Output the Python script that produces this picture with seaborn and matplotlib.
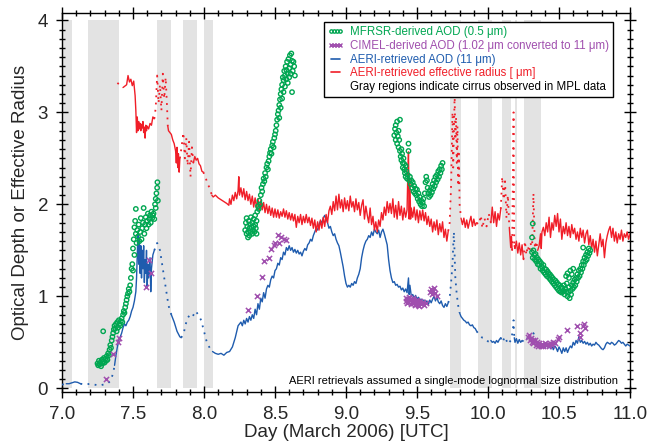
import numpy as np
import pandas as pd
import matplotlib
matplotlib.use("Agg")
import matplotlib.pyplot as plt
from matplotlib.lines import Line2D
from matplotlib.ticker import MultipleLocator, FormatStrFormatter
import seaborn as sns

# ---------------- data ----------------
cirrus_start = [7.00, 7.18, 7.67, 7.85, 8.00, 9.73, 9.93, 10.10, 10.19, 10.25]
cirrus_end = [7.07, 7.40, 7.77, 7.95, 8.06, 9.81, 10.03, 10.16, 10.205, 10.37]

# AERI-retrieved effective radius
radius_day = [
    7.39, 7.43, 7.455, 7.465, 7.475, 7.485, 7.495, 7.505, 7.515, 7.52,
    7.525, 7.53, 7.535, 7.54, 7.545, 7.55, 7.555, 7.56, 7.565, 7.57,
    7.575, 7.58, 7.585, 7.59, 7.595, 7.60, 7.61, 7.62, 7.63, 7.64,
    7.65, 7.66, 7.67, 7.68, 7.69, 7.70, 7.71, 7.72, 7.73, 7.74,
    7.745, 7.75, 7.76, 7.77, 7.78, 7.79, 7.80, 7.805, 7.81, 7.815,
    7.82, 7.825, 7.83, 7.84, 7.855, 7.865, 7.875, 7.885, 7.895, 7.905,
    7.915, 7.925, 7.935, 7.945, 7.955, 7.965, 7.975, 7.985, 7.995, 8.01,
    8.025, 8.04, 8.055, 8.065, 8.08, 8.10, 8.12, 8.14, 8.16, 8.175,
    8.18, 8.19, 8.20, 8.21, 8.22, 8.23, 8.24, 8.245, 8.25, 8.26,
    8.27, 8.28, 8.29, 8.30, 8.31, 8.32, 8.33, 8.34, 8.35, 8.36,
    8.37, 8.38, 8.39, 8.40, 8.41, 8.42, 8.43, 8.44, 8.45, 8.46,
    8.47, 8.48, 8.49, 8.50, 8.51, 8.52, 8.53, 8.54, 8.55, 8.56,
    8.57, 8.58, 8.59, 8.60, 8.61, 8.62, 8.63, 8.64, 8.65, 8.66,
    8.67, 8.68, 8.69, 8.70, 8.71, 8.72, 8.73, 8.74, 8.75, 8.76,
    8.77, 8.78, 8.79, 8.80, 8.81, 8.82, 8.83, 8.84, 8.85, 8.86,
    8.87, 8.88, 8.89, 8.90, 8.91, 8.92, 8.93, 8.94, 8.95, 8.96,
    8.97, 8.98, 8.99, 9.00, 9.01, 9.02, 9.03, 9.04, 9.05, 9.06,
    9.07, 9.08, 9.09, 9.10, 9.11, 9.12, 9.13, 9.14, 9.15, 9.16,
    9.17, 9.18, 9.19, 9.20, 9.21, 9.22, 9.23, 9.24, 9.25, 9.26,
    9.27, 9.28, 9.29, 9.30, 9.31, 9.32, 9.33, 9.34, 9.35, 9.36,
    9.37, 9.38, 9.39, 9.40, 9.41, 9.42, 9.43, 9.435, 9.44, 9.445,
    9.45, 9.455, 9.46, 9.47, 9.48, 9.49, 9.50, 9.51, 9.52, 9.53,
    9.54, 9.55, 9.56, 9.57, 9.58, 9.59, 9.60, 9.61, 9.62, 9.63,
    9.64, 9.65, 9.66, 9.67, 9.68, 9.69, 9.70, 9.71, 9.72, 9.73,
    9.74, 9.745, 9.75, 9.755, 9.76, 9.765, 9.77, 9.775, 9.78, 9.785,
    9.79, 9.795, 9.80, 9.81, 9.82, 9.83, 9.84, 9.85, 9.86, 9.87,
    9.88, 9.89, 9.90, 9.91, 9.92, 9.935, 9.95, 9.96, 9.975, 9.99,
    10.005, 10.02, 10.03, 10.04, 10.05, 10.06, 10.07, 10.08, 10.09, 10.10,
    10.11, 10.12, 10.13, 10.14, 10.15, 10.16, 10.165, 10.17, 10.18, 10.185,
    10.19, 10.20, 10.21, 10.22, 10.23, 10.24, 10.25, 10.26, 10.27, 10.28,
    10.29, 10.30, 10.31, 10.32, 10.33, 10.34, 10.35, 10.36, 10.37, 10.375,
    10.38, 10.39, 10.40, 10.41, 10.42, 10.43, 10.44, 10.45, 10.46, 10.47,
    10.48, 10.49, 10.50, 10.51, 10.52, 10.53, 10.54, 10.55, 10.56, 10.57,
    10.58, 10.59, 10.60, 10.61, 10.62, 10.63, 10.64, 10.65, 10.66, 10.67,
    10.68, 10.69, 10.70, 10.71, 10.72, 10.73, 10.74, 10.75, 10.76, 10.77,
    10.78, 10.79, 10.80, 10.81, 10.82, 10.83, 10.84, 10.85, 10.86, 10.87,
    10.88, 10.89, 10.90, 10.91, 10.92, 10.93, 10.94, 10.95, 10.96, 10.97,
    10.98, 10.99, 11.00,
]
radius_val = [
    3.32, 3.27, 3.30, 3.40, 3.33, 3.36, 3.29, 3.34, 3.18, 3.02,
    2.78, 2.95, 2.80, 2.90, 2.82, 2.88, 2.80, 2.87, 2.83, 2.90,
    2.78, 2.84, 2.72, 2.86, 2.80, 2.85, 2.82, 2.88, 2.86, 2.95,
    2.93, 3.05, 3.40, 3.10, 3.30, 3.02, 3.42, 3.15, 3.38, 3.05,
    2.85, 2.80, 2.78, 2.76, 2.70, 2.66, 2.58, 2.45, 2.62, 2.40,
    2.55, 2.35, 2.50, 2.60, 2.78, 2.50, 2.72, 2.42, 2.68, 2.30,
    2.62, 2.45, 2.52, 2.48, 2.50, 2.44, 2.42, 2.36, 2.35, 2.30,
    2.22, 2.18, 2.10, 2.08, 2.10, 2.07, 2.05, 2.03, 2.01, 1.99,
    2.06, 2.00, 2.10, 2.04, 2.13, 2.06, 2.15, 2.30, 2.10, 2.18,
    2.08, 2.17, 2.05, 2.14, 2.04, 2.11, 2.00, 2.09, 1.97, 2.07,
    1.96, 2.06, 1.94, 2.04, 1.94, 2.02, 1.91, 2.00, 1.90, 1.98,
    1.88, 1.96, 1.86, 1.95, 1.86, 1.94, 1.85, 1.92, 1.87, 1.95,
    1.86, 1.93, 1.84, 1.91, 1.83, 1.90, 1.82, 1.89, 1.75, 1.87,
    1.80, 1.89, 1.78, 1.87, 1.80, 1.89, 1.80, 1.86, 1.77, 1.85,
    1.74, 1.83, 1.70, 1.81, 1.72, 1.83, 1.74, 1.86, 1.76, 1.89,
    1.80, 1.93, 1.98, 1.89, 2.03, 1.93, 2.09, 1.94, 2.11, 1.96,
    2.05, 1.92, 2.07, 1.95, 2.04, 1.93, 2.09, 1.97, 2.03, 1.92,
    2.06, 1.94, 2.02, 1.88, 1.99, 2.05, 1.84, 1.98, 1.88, 1.80,
    1.96, 1.78, 1.87, 1.72, 1.81, 1.70, 1.83, 1.76, 1.91, 1.83,
    1.97, 1.88, 2.03, 1.91, 2.01, 1.90, 2.06, 1.86, 1.99, 1.84,
    2.03, 1.88, 1.98, 1.83, 1.96, 1.86, 1.94, 2.30, 2.57, 1.84,
    2.28, 1.84, 1.96, 1.86, 1.97, 1.83, 1.94, 1.80, 1.93, 1.83,
    1.94, 1.82, 1.91, 1.78, 1.87, 1.76, 1.84, 1.70, 1.81, 1.72,
    1.83, 1.67, 1.79, 1.70, 1.81, 1.64, 1.73, 1.60, 1.71, 1.80,
    2.20, 2.60, 3.00, 2.40, 2.80, 3.20, 2.70, 2.95, 2.45, 2.85,
    2.20, 2.55, 2.00, 1.85, 1.78, 1.85, 1.75, 1.83, 1.74, 1.81,
    1.87, 1.76, 1.84, 1.77, 1.80, 1.78, 1.88, 1.74, 1.85, 1.76,
    1.90, 1.80, 1.97, 1.80, 1.92, 1.76, 1.90, 1.83, 1.95, 2.30,
    2.05, 2.25, 1.85, 2.10, 1.75, 1.53, 1.65, 1.50, 3.00, 1.55,
    1.52, 1.60, 1.47, 1.58, 1.45, 1.56, 1.40, 1.60, 1.45, 1.55,
    1.48, 1.58, 1.50, 2.12, 1.52, 1.60, 1.50, 1.55, 1.68, 1.52,
    1.70, 1.75, 1.66, 1.80, 1.70, 1.86, 1.64, 1.80, 1.72, 1.88,
    1.76, 1.90, 1.70, 1.84, 1.62, 1.76, 1.68, 1.80, 1.66, 1.76,
    1.64, 1.78, 1.68, 1.74, 1.62, 1.70, 1.60, 1.74, 1.64, 1.72,
    1.58, 1.68, 1.72, 1.56, 1.66, 1.52, 1.62, 1.48, 1.60, 1.44,
    1.56, 1.68, 1.54, 1.62, 1.42, 1.58, 1.66, 1.72, 1.76, 1.64,
    1.74, 1.60, 1.70, 1.58, 1.68, 1.62, 1.72, 1.60, 1.68, 1.64,
    1.70, 1.62, 1.68,
]
radius_dotted = [(7.38, 7.44), (7.655, 7.745), (7.835, 7.93), (8.005, 8.06),
                 (9.725, 9.815), (9.93, 10.025), (10.095, 10.155),
                 (10.175, 10.188), (10.255, 10.355)]

# AERI-retrieved AOD (11 um)
aod_day = [
    7.00, 7.03, 7.05, 7.07, 7.09, 7.11, 7.13, 7.16, 7.20, 7.23,
    7.26, 7.29, 7.32, 7.34, 7.36, 7.37, 7.38, 7.39, 7.40, 7.41,
    7.42, 7.43, 7.44, 7.45, 7.46, 7.47, 7.48, 7.49, 7.50, 7.51,
    7.52, 7.525, 7.53, 7.535, 7.54, 7.545, 7.55, 7.555, 7.56, 7.565,
    7.57, 7.575, 7.58, 7.585, 7.59, 7.595, 7.60, 7.605, 7.61, 7.62,
    7.625, 7.63, 7.64, 7.65, 7.67, 7.69, 7.71, 7.73, 7.75, 7.77,
    7.79, 7.81, 7.83, 7.84, 7.86, 7.88, 7.90, 7.92, 7.94, 7.96,
    7.98, 8.00, 8.02, 8.04, 8.06, 8.08, 8.10, 8.12, 8.14, 8.16,
    8.18, 8.20, 8.22, 8.24, 8.26, 8.27, 8.28, 8.29, 8.30, 8.31,
    8.32, 8.33, 8.34, 8.35, 8.36, 8.37, 8.38, 8.39, 8.40, 8.41,
    8.42, 8.43, 8.44, 8.45, 8.46, 8.47, 8.48, 8.49, 8.50, 8.51,
    8.52, 8.53, 8.54, 8.55, 8.56, 8.57, 8.58, 8.59, 8.60, 8.61,
    8.62, 8.63, 8.64, 8.65, 8.66, 8.67, 8.68, 8.69, 8.70, 8.71,
    8.72, 8.73, 8.74, 8.75, 8.76, 8.77, 8.78, 8.79, 8.80, 8.81,
    8.82, 8.83, 8.84, 8.85, 8.86, 8.87, 8.88, 8.89, 8.90, 8.91,
    8.92, 8.93, 8.94, 8.95, 8.96, 8.97, 8.98, 8.99, 9.00, 9.01,
    9.02, 9.03, 9.04, 9.05, 9.06, 9.07, 9.08, 9.09, 9.10, 9.11,
    9.12, 9.13, 9.14, 9.15, 9.16, 9.17, 9.18, 9.19, 9.20, 9.21,
    9.22, 9.23, 9.24, 9.25, 9.26, 9.27, 9.28, 9.29, 9.30, 9.31,
    9.32, 9.33, 9.34, 9.35, 9.36, 9.37, 9.38, 9.39, 9.40, 9.41,
    9.42, 9.43, 9.44, 9.445, 9.45, 9.46, 9.47, 9.48, 9.49, 9.50,
    9.51, 9.52, 9.53, 9.54, 9.55, 9.56, 9.57, 9.58, 9.59, 9.60,
    9.61, 9.62, 9.63, 9.64, 9.65, 9.66, 9.67, 9.68, 9.69, 9.70,
    9.71, 9.72, 9.73, 9.74, 9.75, 9.755, 9.76, 9.765, 9.77, 9.78,
    9.79, 9.80, 9.81, 9.82, 9.83, 9.84, 9.85, 9.86, 9.87, 9.88,
    9.89, 9.90, 9.91, 9.92, 9.94, 9.96, 9.98, 10.00, 10.02, 10.03,
    10.04, 10.05, 10.06, 10.07, 10.08, 10.09, 10.10, 10.12, 10.14, 10.16,
    10.175, 10.18, 10.185, 10.19, 10.20, 10.21, 10.22, 10.23, 10.24, 10.26,
    10.28, 10.30, 10.32, 10.34, 10.36, 10.37, 10.38, 10.39, 10.40, 10.41,
    10.42, 10.43, 10.44, 10.45, 10.46, 10.47, 10.48, 10.49, 10.50, 10.51,
    10.52, 10.53, 10.54, 10.55, 10.56, 10.57, 10.58, 10.59, 10.60, 10.61,
    10.62, 10.63, 10.64, 10.65, 10.66, 10.67, 10.68, 10.69, 10.70, 10.71,
    10.72, 10.73, 10.74, 10.75, 10.76, 10.77, 10.78, 10.79, 10.80, 10.81,
    10.82, 10.83, 10.84, 10.85, 10.86, 10.87, 10.88, 10.89, 10.90, 10.91,
    10.92, 10.93, 10.94, 10.95, 10.96, 10.97, 10.98, 10.99, 11.00,
]
aod_val = [
    0.04, 0.05, 0.05, 0.06, 0.07, 0.065, 0.05, 0.04, 0.05, 0.04,
    0.03, 0.04, 0.05, 0.08, 0.16, 0.25, 0.36, 0.45, 0.52, 0.56,
    0.60, 0.66, 0.70, 0.68, 0.72, 0.74, 0.78, 0.84, 0.88, 0.95,
    1.05, 1.20, 1.45, 1.70, 1.35, 1.60, 1.25, 1.55, 1.20, 1.50,
    1.30, 1.55, 1.15, 1.40, 1.25, 1.50, 1.10, 1.35, 1.20, 1.42,
    1.05, 1.30, 1.45, 1.50, 1.58, 1.50, 1.30, 1.10, 0.90, 0.80,
    0.72, 0.62, 0.56, 0.55, 0.62, 0.75, 0.80, 0.78, 0.84, 0.80,
    0.74, 0.62, 0.50, 0.44, 0.40, 0.38, 0.37, 0.38, 0.36, 0.39,
    0.40, 0.45, 0.55, 0.68, 0.72, 0.68, 0.74, 0.70, 0.76, 0.72,
    0.78, 0.74, 0.80, 0.76, 0.86, 0.80, 0.92, 0.86, 0.98, 0.94,
    1.04, 0.98, 1.08, 1.12, 1.10, 1.18, 1.22, 1.20, 1.28, 1.30,
    1.36, 1.34, 1.42, 1.40, 1.48, 1.45, 1.53, 1.50, 1.55, 1.50,
    1.53, 1.48, 1.51, 1.47, 1.50, 1.46, 1.48, 1.44, 1.49, 1.52,
    1.50, 1.56, 1.58, 1.62, 1.60, 1.66, 1.70, 1.74, 1.72, 1.78,
    1.82, 1.80, 1.85, 1.88, 1.84, 1.80, 1.74, 1.76, 1.70, 1.66,
    1.68, 1.62, 1.58, 1.55, 1.48, 1.40, 1.32, 1.22, 1.14, 1.10,
    1.12, 1.10, 1.14, 1.12, 1.16, 1.14, 1.20, 1.24, 1.30, 1.42,
    1.50, 1.56, 1.60, 1.62, 1.66, 1.64, 1.70, 1.66, 1.73, 1.70,
    1.68, 1.72, 1.64, 1.70, 1.73, 1.68, 1.62, 1.56, 1.40, 1.28,
    1.20, 1.15, 1.16, 1.12, 1.13, 1.10, 1.11, 1.07, 1.09, 1.05,
    1.08, 1.04, 1.20, 1.02, 1.12, 1.00, 1.02, 0.98, 1.01, 0.97,
    0.99, 0.95, 0.97, 0.93, 0.96, 0.92, 0.95, 0.91, 0.96, 0.93,
    0.97, 1.00, 0.95, 0.99, 0.94, 0.92, 0.95, 0.90, 0.88, 0.92,
    0.89, 0.93, 0.98, 1.15, 1.35, 1.55, 1.70, 1.45, 1.20, 1.02,
    0.90, 0.82, 0.78, 0.76, 0.74, 0.73, 0.71, 0.72, 0.69, 0.68,
    0.69, 0.66, 0.65, 0.62, 0.58, 0.55, 0.54, 0.51, 0.52, 0.50,
    0.51, 0.49, 0.52, 0.50, 0.53, 0.55, 0.50, 0.56, 0.48, 0.52,
    0.62, 0.74, 0.55, 0.50, 0.54, 0.49, 0.53, 0.50, 0.52, 0.50,
    0.55, 0.51, 0.60, 0.48, 0.46, 0.49, 0.45, 0.48, 0.44, 0.47,
    0.45, 0.48, 0.43, 0.47, 0.42, 0.46, 0.44, 0.40, 0.45, 0.42,
    0.38, 0.44, 0.40, 0.44, 0.39, 0.43, 0.46, 0.44, 0.50, 0.47,
    0.52, 0.49, 0.56, 0.50, 0.52, 0.49, 0.51, 0.48, 0.50, 0.47,
    0.49, 0.46, 0.48, 0.47, 0.50, 0.48, 0.47, 0.45, 0.43, 0.42,
    0.44, 0.48, 0.50, 0.49, 0.48, 0.50, 0.49, 0.47, 0.48, 0.50,
    0.52, 0.51, 0.49, 0.50, 0.48, 0.46, 0.48, 0.47, 0.46,
]
aod_dotted = [(7.00, 7.04), (7.14, 7.375), (7.655, 7.775), (7.85, 8.07),
              (9.725, 9.805), (9.93, 10.025), (10.095, 10.188), (10.25, 10.35)]

# MFRSR-derived AOD (0.5 um)
mfrsr_day = [
    7.25, 7.255, 7.26, 7.265, 7.27, 7.275, 7.28, 7.285, 7.29, 7.29,
    7.295, 7.30, 7.305, 7.31, 7.315, 7.32, 7.325, 7.33, 7.335, 7.34,
    7.345, 7.35, 7.355, 7.36, 7.365, 7.37, 7.375, 7.38, 7.385, 7.39,
    7.395, 7.40, 7.405, 7.41, 7.415, 7.42, 7.425, 7.43, 7.435, 7.44,
    7.445, 7.45, 7.455, 7.46, 7.465, 7.47, 7.475, 7.48, 7.485, 7.49,
    7.495, 7.50, 7.50, 7.505, 7.51, 7.51, 7.515, 7.52, 7.52, 7.525,
    7.53, 7.535, 7.54, 7.545, 7.55, 7.555, 7.56, 7.565, 7.57, 7.575,
    7.58, 7.585, 7.59, 7.595, 7.60, 7.605, 7.61, 7.615, 7.62, 7.625,
    7.63, 7.635, 7.64, 7.645, 7.65, 7.655, 7.66, 7.66, 7.665, 7.67,
    7.672, 7.675,
    8.29, 8.295, 8.30, 8.30, 8.305, 8.31, 8.31, 8.315, 8.32, 8.32,
    8.325, 8.33, 8.33, 8.335, 8.34, 8.34, 8.345, 8.35, 8.35, 8.355,
    8.36, 8.36, 8.365, 8.37, 8.37, 8.375, 8.38, 8.385, 8.39, 8.395,
    8.40, 8.405, 8.41, 8.415, 8.42, 8.425, 8.43, 8.435, 8.44, 8.445,
    8.45, 8.455, 8.46, 8.465, 8.47, 8.475, 8.48, 8.485, 8.49, 8.495,
    8.50, 8.505, 8.51, 8.515, 8.52, 8.525, 8.53, 8.53, 8.535, 8.54,
    8.54, 8.545, 8.55, 8.55, 8.555, 8.56, 8.56, 8.565, 8.57, 8.57,
    8.575, 8.58, 8.58, 8.585, 8.59, 8.59, 8.595, 8.60, 8.60, 8.605,
    8.61, 8.61, 8.615, 8.62, 8.62, 8.625, 8.63, 8.635, 8.64,
    9.34, 9.345, 9.35, 9.35, 9.355, 9.36, 9.36, 9.365, 9.37, 9.37,
    9.375, 9.38, 9.38, 9.385, 9.39, 9.39, 9.395, 9.40, 9.40, 9.405,
    9.41, 9.41, 9.415, 9.42, 9.42, 9.425, 9.43, 9.435, 9.44, 9.44,
    9.445, 9.45, 9.455, 9.46, 9.465, 9.47, 9.475, 9.48, 9.485, 9.49,
    9.495, 9.50, 9.505, 9.51, 9.515, 9.52, 9.525, 9.53, 9.535, 9.54,
    9.545, 9.55, 9.555, 9.56, 9.565, 9.57, 9.575, 9.58, 9.585, 9.59,
    9.595, 9.60, 9.605, 9.61, 9.615, 9.62, 9.625, 9.63, 9.635, 9.64,
    9.645, 9.65, 9.655, 9.66, 9.665, 9.67, 9.675, 9.68,
    10.31, 10.315, 10.31, 10.315, 10.32, 10.325, 10.33, 10.335, 10.34, 10.345,
    10.35, 10.355, 10.36, 10.365, 10.37, 10.375, 10.38, 10.385, 10.39, 10.395,
    10.40, 10.405, 10.41, 10.415, 10.42, 10.425, 10.43, 10.435, 10.44, 10.445,
    10.45, 10.455, 10.46, 10.465, 10.47, 10.475, 10.48, 10.485, 10.49, 10.495,
    10.50, 10.505, 10.51, 10.515, 10.52, 10.525, 10.53, 10.535, 10.54, 10.545,
    10.55, 10.555, 10.56, 10.565, 10.57, 10.575, 10.58, 10.585, 10.59, 10.595,
    10.60, 10.605, 10.61, 10.615, 10.62, 10.625, 10.63, 10.635, 10.64, 10.645,
    10.65, 10.655, 10.66, 10.665, 10.67, 10.675, 10.68, 10.685, 10.69, 10.695,
    10.70, 10.705, 10.71, 10.715, 10.72, 10.55, 10.56, 10.57, 10.58, 10.59,
    10.60, 10.67,
]
mfrsr_val = [
    0.27, 0.25, 0.30, 0.26, 0.28, 0.24, 0.31, 0.27, 0.62, 0.29,
    0.33, 0.28, 0.32, 0.30, 0.35, 0.31, 0.38, 0.36, 0.42, 0.47,
    0.44, 0.52, 0.56, 0.60, 0.64, 0.68, 0.65, 0.70, 0.62, 0.72,
    0.66, 0.74, 0.70, 0.68, 0.73, 0.76, 0.72, 0.80, 0.84, 0.82,
    0.88, 0.92, 0.96, 1.00, 1.03, 1.08, 1.05, 1.12, 1.20, 1.30,
    1.35, 1.28, 1.52, 1.62, 1.75, 1.45, 1.82, 1.95, 1.68, 1.58,
    1.72, 1.65, 1.78, 1.60, 1.70, 1.85, 1.62, 1.74, 1.80, 1.96,
    1.68, 1.78, 1.86, 1.74, 1.82, 1.90, 1.78, 1.84, 1.88, 1.80,
    1.92, 1.85, 1.88, 1.90, 1.84, 2.00, 2.06, 1.96, 2.12, 2.18,
    2.24, 2.04,
    1.72, 1.80, 1.68, 1.85, 1.76, 1.70, 1.64, 1.82, 1.74, 1.66,
    1.78, 1.70, 1.86, 1.75, 1.68, 1.80, 1.72, 1.84, 1.76, 1.70,
    1.78, 1.88, 1.74, 1.82, 1.68, 1.92, 1.98, 1.95, 2.04, 2.00,
    2.10, 2.18, 2.14, 2.22, 2.28, 2.25, 2.34, 2.30, 2.40, 2.44,
    2.38, 2.47, 2.52, 2.56, 2.60, 2.55, 2.64, 2.68, 2.62, 2.72,
    2.76, 2.80, 2.86, 2.92, 2.98, 3.02, 3.08, 2.94, 3.14, 3.20,
    3.05, 3.25, 3.30, 3.15, 3.38, 3.35, 3.22, 3.45, 3.40, 3.28,
    3.50, 3.36, 3.46, 3.55, 3.42, 3.32, 3.58, 3.48, 3.38, 3.62,
    3.52, 3.42, 3.64, 3.56, 3.22, 3.45, 3.55, 3.50, 3.40,
    2.75, 2.82, 2.70, 2.86, 2.78, 2.66, 2.90, 2.74, 2.62, 2.80,
    2.70, 2.58, 2.92, 2.52, 2.60, 2.48, 2.55, 2.45, 2.40, 2.50,
    2.38, 2.44, 2.34, 2.42, 2.30, 2.36, 2.28, 2.32, 2.58, 2.66,
    2.26, 2.30, 2.22, 2.26, 2.18, 2.24, 2.14, 2.20, 2.12, 2.17,
    2.10, 2.16, 2.06, 2.12, 2.03, 2.08, 2.00, 2.04, 1.98, 2.02,
    2.06, 1.98, 2.12, 2.24, 2.30, 2.26, 2.18, 2.12, 2.08, 2.15,
    2.10, 2.18, 2.13, 2.22, 2.17, 2.26, 2.20, 2.30, 2.24, 2.32,
    2.27, 2.36, 2.30, 2.38, 2.34, 2.42, 2.38, 2.45,
    1.64, 1.79, 1.48, 1.42, 1.50, 1.45, 1.40, 1.46, 1.38, 1.42,
    1.35, 1.40, 1.34, 1.38, 1.30, 1.36, 1.32, 1.28, 1.34, 1.26,
    1.30, 1.24, 1.29, 1.22, 1.27, 1.25, 1.20, 1.24, 1.18, 1.22,
    1.16, 1.20, 1.14, 1.18, 1.12, 1.17, 1.10, 1.15, 1.08, 1.13,
    1.06, 1.12, 1.05, 1.10, 1.04, 1.09, 1.06, 1.12, 1.02, 1.08,
    1.05, 1.14, 1.00, 1.04, 1.10, 0.98, 1.06, 1.02, 1.12, 1.08,
    1.15, 1.10, 1.18, 1.12, 1.20, 1.16, 1.24, 1.20, 1.28, 1.22,
    1.30, 1.26, 1.34, 1.30, 1.38, 1.34, 1.42, 1.38, 1.45, 1.40,
    1.48, 1.44, 1.52, 1.47, 1.50, 1.22, 1.25, 1.20, 1.28, 1.24,
    1.30, 1.53,
]

# CIMEL-derived AOD (1.02 um converted to 11 um)
cimel_day = [
    7.31, 7.36, 7.395, 7.40, 7.59, 7.61, 7.63,
    8.31, 8.37, 8.41, 8.42, 8.46, 8.47, 8.49, 8.50, 8.52, 8.53, 8.54, 8.56, 8.575,
    9.42, 9.425, 9.43, 9.435, 9.44, 9.445, 9.45, 9.455, 9.46, 9.465,
    9.47, 9.475, 9.48, 9.485, 9.49, 9.495, 9.50, 9.505, 9.51, 9.515,
    9.52, 9.53, 9.54, 9.55, 9.56,
    9.59, 9.60, 9.605, 9.61, 9.62, 9.63, 9.64,
    10.28, 10.29, 10.295, 10.30, 10.31, 10.315, 10.32, 10.33, 10.34, 10.345,
    10.35, 10.36, 10.37, 10.38, 10.39, 10.40, 10.41, 10.42, 10.43, 10.44,
    10.45, 10.46, 10.47, 10.49, 10.50, 10.555, 10.63, 10.645, 10.65, 10.67,
    10.675, 10.68,
]
cimel_val = [
    0.10, 0.37, 0.50, 0.55, 1.10, 1.40, 1.25,
    0.85, 1.00, 1.21, 1.38, 1.42, 1.51, 1.56, 1.58, 1.67, 1.58, 1.64, 1.62, 1.61,
    0.95, 0.98, 0.93, 0.97, 0.94, 0.99, 0.96, 0.92, 0.97, 0.94,
    0.98, 0.93, 0.96, 0.91, 0.95, 0.92, 0.96, 0.91, 0.94, 0.90,
    0.95, 0.92, 0.94, 0.91, 0.93,
    1.05, 1.08, 1.03, 1.06, 1.09, 1.04, 1.00,
    0.56, 0.58, 0.52, 0.55, 0.50, 0.53, 0.49, 0.52, 0.47, 0.50,
    0.46, 0.49, 0.46, 0.48, 0.46, 0.49, 0.47, 0.48, 0.46, 0.49,
    0.47, 0.50, 0.49, 0.54, 0.56, 0.63, 0.68, 0.60, 0.56, 0.68,
    0.70, 0.66,
]

labels = [
    "MFRSR-derived AOD (0.5 \u03bcm)",
    "CIMEL-derived AOD (1.02 \u03bcm converted to 11 \u03bcm)",
    "AERI-retrieved AOD (11 \u03bcm)",
    "AERI-retrieved effective radius [ \u03bcm]",
    "Gray regions indicate cirrus observed in MPL data",
]
note = "AERI retrievals assumed a single-mode lognormal size distribution"

# ---------------- style ----------------
GREEN = "#00a651"
PURPLE = "#a04fae"
BLUE = "#1f5cae"
RED = "#f01e28"
GRAY = "#e3e3e3"

sns.set_theme(style="white")
plt.rcParams["font.family"] = ["Liberation Sans", "DejaVu Sans"]

fig = plt.figure(figsize=(6.5, 4.48), dpi=100)
ax = fig.add_axes([62 / 650, 1 - 392 / 448, (630 - 62) / 650, (392 - 13) / 448])


def runs(days, vals, dotted):
    flags = [any(a <= d <= b for a, b in dotted) for d in days]
    out = []
    cur_x, cur_y, cur_f = [days[0]], [vals[0]], flags[0]
    for i in range(1, len(days)):
        if flags[i] != cur_f:
            out.append((cur_x, cur_y, cur_f))
            cur_x, cur_y, cur_f = [days[i - 1]], [vals[i - 1]], flags[i]
        cur_x.append(days[i])
        cur_y.append(vals[i])
    out.append((cur_x, cur_y, cur_f))
    return out


for s, e in zip(cirrus_start, cirrus_end):
    ax.fill_between([s, e], 0, 4, color=GRAY, lw=0, zorder=0)

for xs, ys, dot in runs(aod_day, aod_val, aod_dotted):
    sns.lineplot(x=xs, y=ys, ax=ax, color=BLUE, lw=1.0 if not dot else 1.3,
                 linestyle=(0, (1, 3)) if dot else "-", estimator=None, sort=False, zorder=3)
for xs, ys, dot in runs(radius_day, radius_val, radius_dotted):
    sns.lineplot(x=xs, y=ys, ax=ax, color=RED, lw=1.0 if not dot else 1.3,
                 linestyle=(0, (1, 3)) if dot else "-", estimator=None, sort=False, zorder=3)

sns.scatterplot(x=mfrsr_day, y=mfrsr_val, ax=ax, marker="o", s=10,
                facecolor="none", edgecolor=GREEN, linewidth=1.0, zorder=4)
sns.scatterplot(x=cimel_day, y=cimel_val, ax=ax, marker="x", s=14,
                color=PURPLE, linewidth=1.1, zorder=5)

ax.set_xlim(7.0, 11.0)
ax.set_ylim(-0.04, 4.08)
ax.xaxis.set_major_locator(MultipleLocator(0.5))
ax.xaxis.set_minor_locator(MultipleLocator(0.1))
ax.yaxis.set_major_locator(MultipleLocator(1))
ax.yaxis.set_minor_locator(MultipleLocator(0.1))
ax.xaxis.set_major_formatter(FormatStrFormatter("%.1f"))
ax.yaxis.set_major_formatter(FormatStrFormatter("%d"))
ax.tick_params(which="both", direction="inout", top=True, right=True,
               bottom=True, left=True, color="black", width=1.0)
ax.tick_params(which="major", length=8, labelsize=13.5, pad=6)
ax.tick_params(which="minor", length=4)
for sp in ax.spines.values():
    sp.set_color("black")
    sp.set_linewidth(1.0)

ax.set_xlabel("Day (March 2006) [UTC]", fontsize=13.5, labelpad=1)
ax.set_ylabel("Optical Depth or Effective Radius", fontsize=13.5, labelpad=6)

handles = [
    Line2D([], [], linestyle="none", marker="o", markersize=2.4, mfc="none",
           mec=GREEN, mew=1.0),
    Line2D([], [], linestyle="none", marker="x", markersize=2.6, color=PURPLE, mew=1.0),
    Line2D([], [], color=BLUE, lw=1.2),
    Line2D([], [], color=RED, lw=1.2),
    Line2D([], [], color="none", lw=0),
]
leg = ax.legend(handles, labels, loc="upper right", bbox_to_anchor=(0.97, 0.976),
                borderaxespad=0, fontsize=8.3, numpoints=4, handlelength=1.3,
                handletextpad=0.6, labelspacing=0.15, borderpad=0.35,
                frameon=True, fancybox=False, framealpha=1)
leg.get_frame().set_edgecolor("black")
leg.get_frame().set_linewidth(1.0)
for t, c in zip(leg.get_texts(), [GREEN, PURPLE, BLUE, RED, "black"]):
    t.set_color(c)

ax.text(0.978, 0.028, note, transform=ax.transAxes, ha="right", va="center",
        fontsize=8, color="black", zorder=6)

fig.savefig("out.png", dpi=100)
